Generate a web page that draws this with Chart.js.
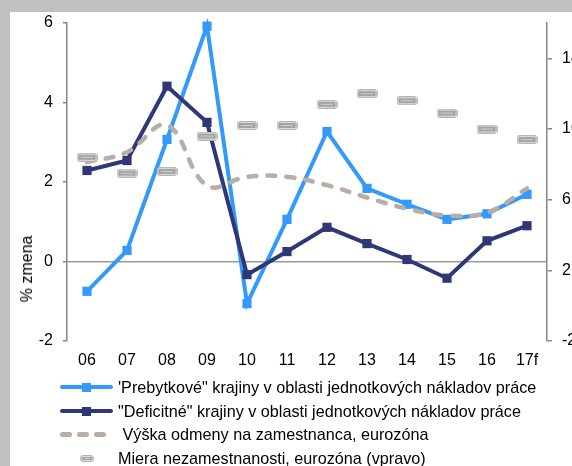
<!DOCTYPE html>
<html>
<head>
<meta charset="utf-8">
<script src="https://cdn.jsdelivr.net/npm/chart.js@4.4.1/dist/chart.umd.min.js"></script>
<style>
  html, body { margin: 0; padding: 0; }
  body {
    width: 572px; height: 466px; position: relative; overflow: hidden;
    background: #c0c0c0;
    font-family: "Liberation Sans", Arial, sans-serif;
  }
  #panel { position: absolute; left: 10px; top: 12px; right: 0; bottom: 0; background: #fff; }
  #chart { position: absolute; left: 0; top: 0; }
  #ytitle {
    position: absolute; left: 27px; top: 269px;
    transform: translate(-50%, -50%) rotate(-90deg);
    font-size: 16px; color: #000; white-space: nowrap;
  }
  #legend { position: absolute; left: 0; top: 0; }
  .row { position: absolute; left: 60px; height: 22px; width: 500px; font-size: 16.2px; line-height: 22px; color: #000; white-space: nowrap; }
  .row .txt { position: absolute; left: 58px; top: 0; white-space: pre; }
  .line { position: absolute; left: 0; top: 9px; width: 53px; height: 4px; border-radius: 2px; }
  .sq { position: absolute; left: 22px; top: 7px; width: 9px; height: 9px; }
  .dash { position: absolute; top: 9px; width: 12px; height: 5px; border-radius: 3px; background: #b9aea6; }
</style>
</head>
<body>
<div id="panel"></div>
<canvas id="chart" width="572" height="466"></canvas>
<div id="ytitle">% zmena</div>
<div id="legend"></div>
<script>
// roky, posledny je prognoza
const years = ['06', '07', '08', '09', '10', '11', '12', '13', '14', '15', '16', '17f'];

// jednotkove naklady prace, % zmena
const surplus = [-0.75, 0.28, 3.07, 5.92, -1.06, 1.06, 3.27, 1.84, 1.44, 1.06, 1.2, 1.69];
const deficit = [2.29, 2.54, 4.41, 3.5, -0.33, 0.25, 0.86, 0.45, 0.05, -0.42, 0.52, 0.9];
// odmena na zamestnanca
const wages = [2.5, 2.75, 3.43, 1.91, 2.13, 2.13, 1.92, 1.61, 1.33, 1.16, 1.23, 1.84];
// nezamestnanost v %, prava os
const unemployment = [8.4, 7.5, 7.6, 9.6, 10.2, 10.2, 11.4, 12.0, 11.6, 10.9, 10.0, 9.4];

const leftTicks = [-2, 0, 2, 4, 6];
const rightTicks = [-2, 2, 6, 10, 14];

const labels = [
  '\'Prebytkové" krajiny v oblasti jednotkových nákladov práce',
  '"Deficitné" krajiny v oblasti jednotkových nákladov práce',
  ' Výška odmeny na zamestnanca, eurozóna',
  'Miera nezamestnanosti, eurozóna (vpravo)'
];

const BLUE = '#3399fa';
const NAVY = '#2f3877';
const TAUPE = '#b9aea6';

// sedy "pill" znacka pre nezamestnanost
function makePill(w, h) {
  const c = document.createElement('canvas');
  c.width = w; c.height = h;
  const g = c.getContext('2d');
  g.fillStyle = '#dcdcdc';
  g.strokeStyle = '#b4b4b4';
  g.lineWidth = 1;
  g.beginPath();
  g.roundRect(0.5, 0.5, w - 1, h - 1, 2.5);
  g.fill();
  g.stroke();
  g.fillStyle = '#a4a4a4';
  g.fillRect(2, 2, w - 4, h - 4);
  g.fillStyle = '#cfcfcf';
  g.fillRect(3, Math.floor(h / 2), w - 6, 1);
  g.fillStyle = '#8a8a8a';
  g.fillRect(3, Math.floor(h / 2), 1, 1);
  g.fillRect(w - 4, Math.floor(h / 2), 1, 1);
  return c;
}

const pill = makePill(21, 9);

const chart = new Chart(document.getElementById('chart'), {
  type: 'line',
  data: {
    labels: years,
    datasets: [
      {
        label: labels[0],
        data: surplus,
        borderColor: BLUE,
        backgroundColor: BLUE,
        borderWidth: 4,
        pointStyle: 'rect',
        pointRadius: 6.5,
        pointBorderWidth: 0,
        tension: 0,
        yAxisID: 'y',
        order: 3,
        clip: false
      },
      {
        label: labels[1],
        data: deficit,
        borderColor: NAVY,
        backgroundColor: NAVY,
        borderWidth: 4,
        pointStyle: 'rect',
        pointRadius: 6.5,
        pointBorderWidth: 0,
        tension: 0,
        yAxisID: 'y',
        order: 2,
        clip: false
      },
      {
        label: labels[2],
        data: wages,
        borderColor: TAUPE,
        borderWidth: 4.5,
        borderDash: [8, 11],
        borderCapStyle: 'round',
        pointRadius: 0,
        tension: 0.4,
        yAxisID: 'y',
        order: 1,
        clip: false
      },
      {
        label: labels[3],
        data: unemployment,
        showLine: false,
        pointStyle: pill,
        pointRadius: 10,
        yAxisID: 'y1',
        order: 0,
        clip: false
      }
    ]
  },
  options: {
    responsive: false,
    animation: false,
    devicePixelRatio: 1,
    layout: { padding: { top: 23, left: 0, right: 0, bottom: 0 } },
    plugins: {
      legend: { display: false },
      tooltip: { enabled: false }
    },
    scales: {
      x: {
        type: 'category',
        offset: true,
        grid: { display: false, drawTicks: false },
        border: { display: false },
        ticks: { color: '#000', font: { size: 16, family: 'Liberation Sans' }, padding: 10, maxRotation: 0 },
        afterFit: s => { s.height = 125; }
      },
      y: {
        position: 'left',
        min: -2,
        max: 6,
        afterBuildTicks: s => { s.ticks = leftTicks.map(v => ({ value: v })); },
        grid: {
          drawOnChartArea: true,
          drawTicks: true,
          tickLength: 4,
          tickColor: '#868686',
          color: c => (c.tick && c.tick.value === 0 ? '#9a9a9a' : 'rgba(0,0,0,0)'),
          lineWidth: 1.5
        },
        border: { display: true, color: '#868686', width: 1.5 },
        ticks: { color: '#000', font: { size: 16, family: 'Liberation Sans' }, padding: 10 },
        afterFit: s => { s.width = 67; }
      },
      y1: {
        position: 'right',
        min: -2,
        max: 16,
        afterBuildTicks: s => { s.ticks = rightTicks.map(v => ({ value: v })); },
        grid: { drawOnChartArea: false, drawTicks: true, tickLength: 5, tickColor: '#868686', lineWidth: 1.5 },
        border: { display: true, color: '#868686', width: 1.5 },
        ticks: { color: '#000', font: { size: 16, family: 'Liberation Sans' }, padding: 10 },
        afterFit: s => { s.width = 25; }
      }
    }
  }
});

// legenda pod grafom
function buildLegend(ch) {
  const box = document.getElementById('legend');
  ch.data.datasets.forEach((ds, i) => {
    const row = document.createElement('div');
    row.className = 'row';
    row.style.top = (376 + i * 23.7) + 'px';
    if (ds.showLine === false) {
      const img = makePill(14, 7);
      img.style.position = 'absolute';
      img.style.left = '20px';
      img.style.top = '8px';
      row.appendChild(img);
    } else if (ds.borderDash) {
      [0, 17, 34].forEach(x => {
        const d = document.createElement('span');
        d.className = 'dash';
        d.style.left = x + 'px';
        row.appendChild(d);
      });
    } else {
      const l = document.createElement('span');
      l.className = 'line';
      l.style.background = ds.borderColor;
      const s = document.createElement('span');
      s.className = 'sq';
      s.style.background = ds.borderColor;
      row.appendChild(l);
      row.appendChild(s);
    }
    const t = document.createElement('span');
    t.className = 'txt';
    t.textContent = ds.label;
    row.appendChild(t);
    box.appendChild(row);
  });
}
buildLegend(chart);
</script>
</body>
</html>
